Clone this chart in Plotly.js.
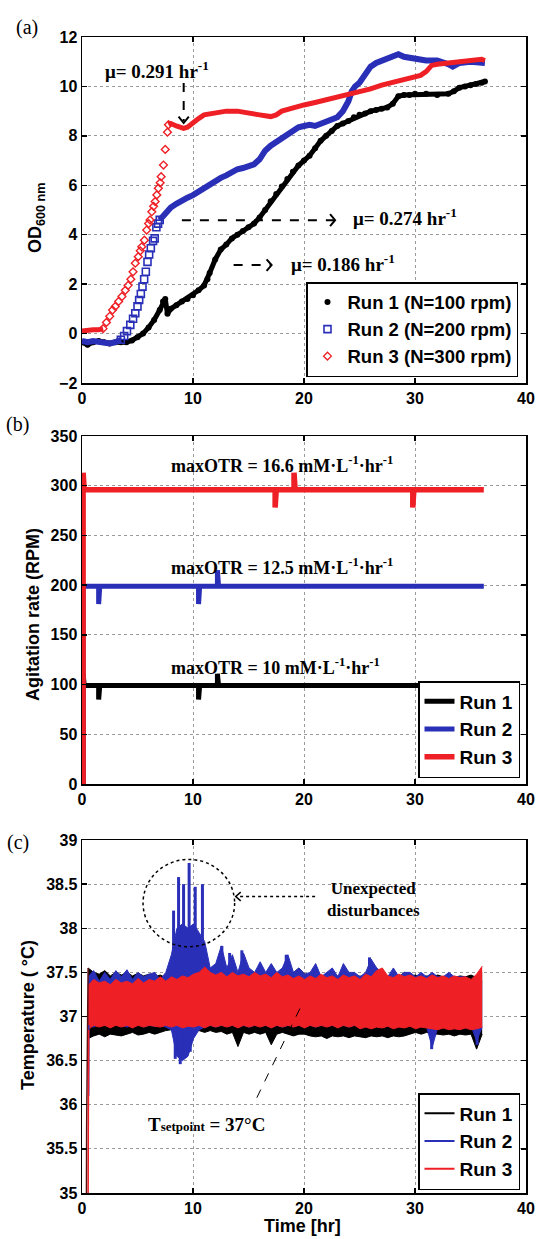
<!DOCTYPE html>
<html><head><meta charset="utf-8">
<script src="https://cdn.plot.ly/plotly-3.0.1.min.js"></script>
<style>html,body{margin:0;padding:0;background:#fff}#chart{width:538px;height:1239px}</style>
</head><body><div id="chart"></div><script>
// ---------- (a) OD600 ----------
const run1T  = [0,0.5,1,1.5,2,2.5,3,3.5,4,4.5,5,5.5,6,6.5,7,7.3,7.5,7.7,8,8.5,9,9.5,10,10.5,11,11.3,11.5,12,12.5,13,13.5,14,14.5,15,15.5,16,16.5,17,17.5,18,18.5,19,19.5,20,20.5,21,21.5,22,22.5,23,23.5,24,24.5,25,25.5,26,26.5,27,27.5,28,28.5,29,29.5,30,31,32,33,33.5,34,34.5,35,35.5,36,36.3];
const run1OD = [-0.35,-0.45,-0.35,-0.3,-0.35,-0.4,-0.35,-0.35,-0.35,-0.28,-0.15,0.0,0.25,0.55,0.95,1.3,1.4,0.8,1.0,1.15,1.3,1.4,1.55,1.75,1.95,2.2,2.45,3.0,3.4,3.6,3.85,4.0,4.15,4.3,4.45,4.7,5.0,5.35,5.65,5.95,6.25,6.55,6.8,7.0,7.2,7.5,7.8,8.0,8.2,8.4,8.5,8.6,8.75,8.85,8.9,9.0,9.05,9.1,9.15,9.3,9.6,9.65,9.65,9.7,9.7,9.65,9.7,9.8,9.95,10.0,10.05,10.1,10.15,10.2];
// run 2: dense part (before / after the rise) and sparse squares of the rise
const run2T  = [0,0.5,1,1.5,2,2.5,3,3.5,null,7.0,7.5,8,8.5,9,9.5,10,10.5,11,11.5,12,12.5,13,13.5,14,14.5,15,15.5,16,16.5,17,17.5,18,18.5,19,19.5,20,20.5,21,21.5,22,22.5,23,23.5,24,24.3,24.6,25,25.5,26,26.5,27,27.5,28,28.5,29,29.5,30,31,32,32.5,33,33.4,34,35,36,36.3];
const run2OD = [-0.3,-0.35,-0.3,-0.35,-0.35,-0.4,-0.35,-0.25,null,4.6,4.9,5.1,5.25,5.4,5.5,5.6,5.75,5.9,6.0,6.2,6.3,6.4,6.55,6.65,6.7,6.75,6.85,7.05,7.4,7.6,7.75,7.9,8.05,8.2,8.35,8.4,8.45,8.4,8.5,8.6,8.65,8.75,9.0,9.4,9.8,10.0,10.15,10.45,10.8,10.95,11.05,11.15,11.2,11.3,11.2,11.15,11.1,11.05,11.05,11.0,10.9,10.8,10.95,11.0,10.95,10.95];
const run2RiseT  = [3.5,3.8,4.05,4.35,4.6,4.8,5.0,5.15,5.3,5.45,5.6,5.75,5.9,6.05,6.2,6.4,6.55,6.7,6.85,7.0];
const run2RiseOD = [-0.25,-0.1,0.1,0.35,0.6,0.82,1.1,1.36,1.6,1.9,2.2,2.5,2.9,3.2,3.45,3.75,3.85,4.3,4.45,4.6];
// run 3
const run3T  = [0,0.5,1,1.5,1.9,null,7.79,8.0,8.5,9.15,9.5,10,10.5,11,11.5,12,13,14,15,16,17,17.5,18,19,20,21,22,23,24,25,26,27,28,29,30,30.5,31,31.5,32,33,34,35,36,36.3];
const run3OD = [0.1,0.15,0.15,0.15,0.2,null,8.45,8.5,8.4,8.3,8.35,8.55,8.7,8.85,8.9,8.95,9.0,9.0,8.95,8.85,8.78,8.85,9.0,9.15,9.25,9.35,9.45,9.55,9.65,9.75,9.9,10.05,10.15,10.25,10.35,10.45,10.6,10.85,10.9,10.95,11.0,11.1,11.1,11.05];
const run3RiseT  = [1.9,2.2,2.5,2.75,3.0,3.3,3.6,3.9,4.15,4.4,4.6,4.8,5.07,5.25,5.38,5.62,5.83,6.0,6.13,6.29,6.45,6.59,6.74,6.88,7.04,7.13,7.34,7.5,7.7,7.79];
const run3RiseOD = [0.2,0.45,0.7,0.95,1.1,1.3,1.5,1.75,1.95,2.2,2.5,2.85,3.11,3.35,3.51,3.78,4.19,4.45,4.6,4.93,5.15,5.34,5.61,5.88,6.1,6.35,6.82,7.45,8.15,8.45];

// ---------- (b) agitation ----------
const agitT1 = [0.1,0.1,0.2,1.5,1.5,1.6,1.6,10.5,10.5,10.6,10.6,12.2,12.2,12.3,12.3,36.1];
const agitN1 = [0,111,99,99,85,85,99,99,85,85,99,99,111,111,99,99];
const agitT2 = [0.1,0.1,0.2,1.5,1.5,1.6,1.6,10.5,10.5,10.6,10.6,12.2,12.2,12.3,12.3,36.2];
const agitN2 = [0,199,199,199,181,181,199,199,181,181,199,199,215,215,199,199];
const agitT3 = [0.1,0.1,0.2,0.2,17.4,17.4,17.5,17.5,19.1,19.1,19.2,19.2,29.8,29.8,29.9,29.9,36.2];
const agitN3 = [0,313,313,296,296,278,278,296,296,313,313,296,296,278,278,296,296];

// ---------- (c) temperature (upper / lower envelope every 0.5 hr) ----------
const tempT = [0.55,1.05,1.55,2.05,2.55,3.05,3.55,4.05,4.55,5.05,5.55,6.05,6.55,7.05,7.55,8.05,8.55,9.05,9.55,10.05,10.55,11.05,11.55,12.05,12.55,13.05,13.55,14.05,14.55,15.05,15.55,16.05,16.55,17.05,17.55,18.05,18.55,19.05,19.55,20.05,20.55,21.05,21.55,22.05,22.55,23.05,23.55,24.05,24.55,25.05,25.55,26.05,26.55,27.05,27.55,28.05,28.55,29.05,29.55,30.05,30.55,31.05,31.55,32.05,32.55,33.05,33.55,34.05,34.55,35.05,35.55,36.05];
const temp1Hi = [37.55,37.5,37.48,37.52,37.46,37.5,37.47,37.5,37.46,37.49,37.46,37.48,37.45,37.47,37.44,37.46,37.44,37.46,37.43,37.46,37.44,37.47,37.45,37.46,37.44,37.46,37.43,37.46,37.44,37.46,37.43,37.45,37.44,37.46,37.43,37.45,37.44,37.5,37.55,37.48,37.45,37.47,37.44,37.46,37.44,37.46,37.43,37.46,37.44,37.46,37.43,37.46,37.44,37.46,37.44,37.47,37.45,37.5,37.46,37.47,37.44,37.46,37.45,37.47,37.45,37.46,37.44,37.46,37.45,37.47,37.44,37.5];
const temp1Lo = [36.75,36.78,36.8,36.77,36.8,36.79,36.78,36.8,36.82,36.79,36.8,36.82,36.8,36.82,36.84,36.85,36.86,36.85,36.84,36.85,36.84,36.82,36.84,36.82,36.83,36.8,36.82,36.66,36.82,36.8,36.82,36.8,36.82,36.68,36.8,36.82,36.8,36.78,36.8,36.8,36.78,36.77,36.78,36.75,36.78,36.77,36.78,36.76,36.78,36.77,36.76,36.78,36.77,36.78,36.76,36.78,36.77,36.78,36.8,36.82,36.8,36.82,36.8,36.8,36.79,36.8,36.78,36.8,36.79,36.8,36.63,36.8];
const temp2Hi = [37.45,37.52,37.4,37.5,37.42,37.52,37.45,37.53,37.42,37.5,37.45,37.48,37.5,37.42,37.5,37.7,38.0,38.05,38.0,38.05,37.95,37.85,37.55,37.6,37.8,37.55,37.7,37.5,37.72,37.55,37.5,37.62,37.5,37.6,37.5,37.55,37.7,37.5,37.55,37.48,37.5,37.6,37.45,37.5,37.55,37.45,37.6,37.5,37.5,37.45,37.5,37.65,37.55,37.5,37.45,37.55,37.45,37.5,37.5,37.45,37.5,37.45,37.5,37.45,37.45,37.5,37.45,37.45,37.45,37.4,37.45,37.4];
const temp2Lo = [36.9,36.88,36.92,36.9,36.88,36.91,36.9,36.88,36.9,36.92,36.88,36.9,36.89,36.9,36.88,36.85,36.55,36.5,36.55,36.75,36.85,36.88,36.9,36.88,36.9,36.89,36.9,36.88,36.9,36.88,36.9,36.89,36.9,36.88,36.9,36.88,36.9,36.89,36.9,36.88,36.9,36.88,36.9,36.89,36.9,36.88,36.9,36.88,36.9,36.89,36.9,36.88,36.9,36.88,36.9,36.89,36.9,36.88,36.9,36.88,36.9,36.88,36.65,36.88,36.9,36.88,36.9,36.89,36.88,36.9,36.72,36.88];
const temp3Hi = [37.35,37.42,37.38,37.4,37.36,37.42,37.38,37.4,37.37,37.43,37.38,37.42,37.4,37.45,37.4,37.45,37.42,37.46,37.44,37.48,37.5,37.56,37.5,37.47,37.5,37.45,37.5,37.46,37.48,37.45,37.5,37.46,37.48,37.44,37.5,37.45,37.47,37.43,37.46,37.42,37.46,37.43,37.48,37.44,37.46,37.42,37.47,37.44,37.46,37.42,37.48,37.45,37.52,37.55,37.46,37.44,37.48,37.45,37.47,37.44,37.46,37.43,37.47,37.44,37.46,37.43,37.46,37.44,37.45,37.42,37.48,37.57];
const temp3Lo = [36.85,36.9,36.88,36.9,36.87,36.9,36.88,36.9,36.87,36.9,36.88,36.9,36.89,36.88,36.9,36.88,36.9,36.87,36.89,36.88,36.9,36.87,36.9,36.88,36.9,36.88,36.9,36.87,36.9,36.88,36.9,36.88,36.9,36.87,36.9,36.88,36.9,36.88,36.9,36.87,36.9,36.88,36.9,36.88,36.9,36.87,36.9,36.88,36.9,36.86,36.88,36.86,36.88,36.87,36.89,36.86,36.88,36.87,36.89,36.86,36.88,36.87,36.86,36.85,36.87,36.85,36.86,36.85,36.87,36.85,36.86,36.88];
// run 2 isolated spikes (up and down)
const spike2T   = [8.25,8.7,9.15,9.65,10.2,10.85,12.6,13.3,14.4,18.4,25.9];
const spike2Top = [38.2,38.58,38.5,38.74,38.47,38.5,37.8,37.72,37.75,37.7,37.67];
const dip2T      = [8.4,8.85,9.3,9.75,31.5,35.6];
const dip2Bottom = [36.52,36.46,36.53,36.6,36.63,36.68];
// start-up transients
const start1T = [0.4,0.42,0.55], start1V = [34.9,35.75,37.55];
const start2T = [0.6,0.62],      start2V = [36.1,36.9];
const start3T = [0.55,0.6],      start3V = [34.9,36.85];

// ---------- styling ----------
const SANS = 'Liberation Sans, Arial, sans-serif';
const SERIF = 'Liberation Serif, Times New Roman, serif';
const BLACK = '#000000', BLUE = '#2a2fb8', RED = '#ee1f25';
const W = 538, H = 1239;
const XD = [82/W, 526/W];
const YD_A = [1-383/H, 1-37/H], YD_B = [1-784/H, 1-436/H], YD_C = [1-1193/H, 1-840/H];

function ax(extra){
  return Object.assign({
    showline:true, mirror:'ticks', linecolor:'#000', linewidth:1.5,
    ticks:'inside', ticklen:5, tickwidth:1.3, tickcolor:'#000',
    showgrid:true, gridcolor:'#9a9a9a', griddash:'dot', gridwidth:1,
    zeroline:false, tickfont:{family:SANS, size:16, weight:'bold', color:'#000'}
  }, extra);
}

const traces = [];
// (a)
traces.push({x:run1T, y:run1OD, mode:'lines', line:{color:BLACK, width:5}, showlegend:false, xaxis:'x', yaxis:'y'});
traces.push({x:run1T, y:run1OD, mode:'markers', marker:{symbol:'circle', size:6, color:BLACK}, name:'Run 1 (N=100 rpm)', legend:'legend', xaxis:'x', yaxis:'y'});
traces.push({x:run2T, y:run2OD, mode:'lines', line:{color:BLUE, width:6}, showlegend:false, xaxis:'x', yaxis:'y'});
traces.push({x:run2RiseT, y:run2RiseOD, mode:'markers', marker:{symbol:'square-open', size:7, color:BLUE, line:{width:1.6, color:BLUE}}, name:'Run 2 (N=200 rpm)', legend:'legend', xaxis:'x', yaxis:'y'});
traces.push({x:run3T, y:run3OD, mode:'lines', line:{color:RED, width:5}, showlegend:false, xaxis:'x', yaxis:'y'});
traces.push({x:run3RiseT, y:run3RiseOD, mode:'markers', marker:{symbol:'diamond-open', size:6, color:RED, line:{width:1.4, color:RED}}, name:'Run 3 (N=300 rpm)', legend:'legend', xaxis:'x', yaxis:'y'});
// (b)
traces.push({x:agitT1, y:agitN1, mode:'lines', line:{color:BLACK, width:5}, name:'Run 1', legend:'legend2', xaxis:'x2', yaxis:'y2'});
traces.push({x:agitT2, y:agitN2, mode:'lines', line:{color:BLUE, width:5}, name:'Run 2', legend:'legend2', xaxis:'x2', yaxis:'y2'});
traces.push({x:agitT3, y:agitN3, mode:'lines', line:{color:RED, width:5.5}, name:'Run 3', legend:'legend2', xaxis:'x2', yaxis:'y2'});
// (c) bands
function band(lo, hi, color){
  traces.push({x:tempT, y:lo, mode:'lines', line:{color:color, width:1}, showlegend:false, xaxis:'x3', yaxis:'y3'});
  traces.push({x:tempT, y:hi, mode:'lines', line:{color:color, width:1}, fill:'tonexty', fillcolor:color, showlegend:false, xaxis:'x3', yaxis:'y3'});
}
band(temp1Lo, temp1Hi, BLACK);
band(temp2Lo, temp2Hi, BLUE);
// blue spikes
const sx = [], sy = [];
spike2T.forEach((t,i)=>{ sx.push(t,t,null); sy.push(37.2, spike2Top[i], null); });
dip2T.forEach((t,i)=>{ sx.push(t,t,null); sy.push(37.0, dip2Bottom[i], null); });
traces.push({x:sx, y:sy, mode:'lines', line:{color:BLUE, width:3}, showlegend:false, xaxis:'x3', yaxis:'y3'});
band(temp3Lo, temp3Hi, RED);
traces.push({x:start1T, y:start1V, mode:'lines', line:{color:'#5a1010', width:1.5}, showlegend:false, xaxis:'x3', yaxis:'y3'});
traces.push({x:start2T, y:start2V, mode:'lines', line:{color:BLUE, width:1.5}, showlegend:false, xaxis:'x3', yaxis:'y3'});
traces.push({x:start3T, y:start3V, mode:'lines', line:{color:RED, width:1.5}, showlegend:false, xaxis:'x3', yaxis:'y3'});
// legend carriers for (c)
[['Run 1',BLACK],['Run 2',BLUE],['Run 3',RED]].forEach(([n,c])=>{
  traces.push({x:[null], y:[null], mode:'lines', line:{color:c, width:2}, name:n, legend:'legend3', xaxis:'x3', yaxis:'y3'});
});

const legStyle = {bgcolor:'#fff', bordercolor:'#000', borderwidth:1.5, xanchor:'right', yanchor:'bottom', traceorder:'normal',
  font:{family:SANS, size:18.5, weight:'bold', color:'#000'}};

const sup = s => '<sup>'+s+'</sup>';
const mu = (v)=>'\u03bc= '+v+' hr'+sup('-1');
const annFont = {family:SERIF, size:19, weight:'bold', color:'#000'};
const otrFont = {family:SERIF, size:18, weight:'bold', color:'#000'};
const C = {xanchor:'center', yanchor:'middle', showarrow:false};
const annotations = [
  // panel labels
  Object.assign({xref:'paper', yref:'paper', x:27/W, y:1-27/H, text:'(a)', font:{family:SERIF, size:20, color:'#000'}}, C),
  Object.assign({xref:'paper', yref:'paper', x:17/W, y:1-424/H, text:'(b)', font:{family:SERIF, size:20, color:'#000'}}, C),
  Object.assign({xref:'paper', yref:'paper', x:18/W, y:1-842/H, text:'(c)', font:{family:SERIF, size:20, color:'#000'}}, C),
  // axis titles
  Object.assign({xref:'paper', yref:'paper', x:36/W, y:1-218/H, text:'OD'+'<sub>600 nm</sub>', textangle:-90, font:{family:SANS, size:18, weight:'bold', color:'#000'}}, C),
  Object.assign({xref:'paper', yref:'paper', x:33/W, y:1-615/H, text:'Agitation rate (RPM)', textangle:-90, font:{family:SANS, size:18, weight:'bold', color:'#000'}}, C),
  Object.assign({xref:'paper', yref:'paper', x:28/W, y:1-1015/H, text:'Temperature ( \u00b0C)', textangle:-90, font:{family:SANS, size:18, weight:'bold', color:'#000'}}, C),
  Object.assign({xref:'paper', yref:'paper', x:302/W, y:1-1226/H, text:'Time [hr]', font:{family:SANS, size:18, weight:'bold', color:'#000'}}, C),
  // (a)
  Object.assign({xref:'x', yref:'y', x:6.75, y:10.68, text:mu('0.291'), font:annFont}, C),
  Object.assign({xref:'x', yref:'y', x:29.1, y:4.73, text:mu('0.274'), font:annFont}, C),
  Object.assign({xref:'x', yref:'y', x:23.5, y:2.84, text:mu('0.186'), font:annFont}, C),
  // (b)
  Object.assign({xref:'x2', yref:'y2', x:7.8, y:321, text:'maxOTR = 16.6 mM\u00b7L'+sup('-1')+'\u00b7hr'+sup('-1'), font:otrFont}, C, {xanchor:'left'}),
  Object.assign({xref:'x2', yref:'y2', x:7.8, y:219, text:'maxOTR = 12.5 mM\u00b7L'+sup('-1')+'\u00b7hr'+sup('-1'), font:otrFont}, C, {xanchor:'left'}),
  Object.assign({xref:'x2', yref:'y2', x:7.8, y:118, text:'maxOTR = 10 mM\u00b7L'+sup('-1')+'\u00b7hr'+sup('-1'), font:otrFont}, C, {xanchor:'left'}),
  // (c)
  Object.assign({xref:'x3', yref:'y3', x:21.9, y:38.33, text:'Unexpected<br>disturbances', font:{family:SERIF, size:17, weight:'bold', color:'#000'}}, C, {xanchor:'left'}),
  Object.assign({xref:'x3', yref:'y3', x:11.2, y:35.78, text:'T<span style="font-size:13px">setpoint</span> = 37\u00b0C', font:{family:SERIF, size:19, weight:'bold', color:'#000'}}, C)
];

const dashLine = (xr, yr, x0,y0,x1,y1, dash, w)=>({type:'line', xref:xr, yref:yr, x0:x0,y0:y0,x1:x1,y1:y1, line:{color:'#000', width:w, dash:dash}});
const pathShape = (xr, yr, d, w)=>({type:'path', xref:xr, yref:yr, path:d, line:{color:'#000', width:w}});
const shapes = [
  dashLine('x','y', 9.16,10.14, 9.16,8.6, 'dash', 2),
  pathShape('x','y', 'M 8.7,8.78 L 9.16,8.52 L 9.62,8.78', 2),
  dashLine('x','y', 9.0,4.59, 22.7,4.59, 'dash', 2),
  pathShape('x','y', 'M 22.35,4.83 L 22.8,4.59 L 22.35,4.35', 2),
  dashLine('x','y', 13.66,2.77, 17.0,2.77, 'dash', 2),
  pathShape('x','y', 'M 16.63,3.0 L 17.08,2.77 L 16.63,2.54', 2),
  {type:'circle', xref:'x3', yref:'y3', x0:5.5, x1:13.75, y0:37.79, y1:38.78, line:{color:'#000', width:1.5, dash:'dot'}},
  dashLine('x3','y3', 21.0,38.36, 13.85,38.36, 'dot', 1.5),
  pathShape('x3','y3', 'M 14.3,38.31 L 13.85,38.36 L 14.3,38.41', 1.5),
  dashLine('x3','y3', 15.75,36.08, 19.9,37.16, 'dash', 1)
];

const layout = {
  width:W, height:H, margin:{l:0, r:0, t:0, b:0}, paper_bgcolor:'#fff', plot_bgcolor:'#fff',
  font:{family:SANS, color:'#000'},
  xaxis: ax({domain:XD, anchor:'y', range:[0,40], dtick:10}),
  yaxis: ax({domain:YD_A, anchor:'x', range:[-2,12], dtick:2}),
  xaxis2: ax({domain:XD, anchor:'y2', range:[0,40], dtick:10}),
  yaxis2: ax({domain:YD_B, anchor:'x2', range:[0,350], dtick:50}),
  xaxis3: ax({domain:XD, anchor:'y3', range:[0,40], dtick:10}),
  yaxis3: ax({domain:YD_C, anchor:'x3', range:[35,39], dtick:0.5}),
  legend: Object.assign({}, legStyle, {x:518/W, y:1-377/H}),
  legend2: Object.assign({}, legStyle, {x:520/W, y:1-778/H, font:{family:SANS, size:19, weight:'bold', color:'#000'}}),
  legend3: Object.assign({}, legStyle, {x:520/W, y:1-1190/H, font:{family:SANS, size:19, weight:'bold', color:'#000'}}),
  annotations: annotations, shapes: shapes
};
Plotly.newPlot('chart', traces, layout, {staticPlot:true, displayModeBar:false});
</script></body></html>
